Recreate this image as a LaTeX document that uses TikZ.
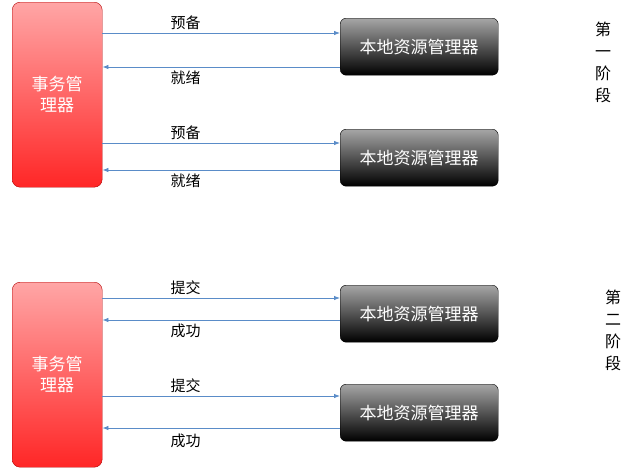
\documentclass[tikz,border=0pt]{standalone}
\usepackage{fontspec}
\setmainfont{Noto Sans CJK SC}
\usetikzlibrary{arrows.meta}
\definecolor{flowblue}{RGB}{90,140,200}
\tikzset{
  tm/.style={draw=red!70!black, rounded corners=8pt, top color=red!35, bottom color=red!85, minimum width=90pt, minimum height=185pt, align=center, font=\fontsize{17}{21}\selectfont, text=white, anchor=north west},
  rm/.style={draw=black, rounded corners=6pt, top color=gray!70, bottom color=black, minimum width=158pt, minimum height=57pt, font=\fontsize{17}{20}\selectfont, text=white, anchor=north west},
  msg/.style={draw=flowblue, thick, -{Latex[length=6pt]}},
  lbl/.style={font=\fontsize{15}{17}\selectfont},
  phase/.style={align=center, font=\fontsize{16}{22}\selectfont}
}
\begin{document}
\begin{tikzpicture}[x=1pt,y=-1pt]
\useasboundingbox (0,0) rectangle (644,472);
% phase one
\node[tm] (tmA) at (12,2) {事务管\\理器};
\node[rm] (rmA) at (340,18) {本地资源管理器};
\node[rm] (rmB) at (340,129) {本地资源管理器};
\draw[msg] (tmA.east |- 0,33) -- (rmA.west |- 0,33) node[lbl,pos=.35,above] {预备};
\draw[msg] (rmA.west |- 0,67) -- (tmA.east |- 0,67) node[lbl,pos=.65,below] {就绪};
\draw[msg] (tmA.east |- 0,143) -- (rmB.west |- 0,143) node[lbl,pos=.35,above] {预备};
\draw[msg] (rmB.west |- 0,170) -- (tmA.east |- 0,170) node[lbl,pos=.65,below] {就绪};
\node[phase] (phA) at (603,62) {第\\一\\阶\\段};
% phase two
\node[tm] (tmB) at (12,282) {事务管\\理器};
\node[rm] (rmC) at (340,285) {本地资源管理器};
\node[rm] (rmD) at (340,384) {本地资源管理器};
\draw[msg] (tmB.east |- 0,298) -- (rmC.west |- 0,298) node[lbl,pos=.35,above] {提交};
\draw[msg] (rmC.west |- 0,320) -- (tmB.east |- 0,320) node[lbl,pos=.65,below] {成功};
\draw[msg] (tmB.east |- 0,396) -- (rmD.west |- 0,396) node[lbl,pos=.35,above] {提交};
\draw[msg] (rmD.west |- 0,428) -- (tmB.east |- 0,428) node[lbl,pos=.65,below=2pt] {成功};
\node[phase] (phB) at (613,330) {第\\二\\阶\\段};
\end{tikzpicture}
\end{document}
